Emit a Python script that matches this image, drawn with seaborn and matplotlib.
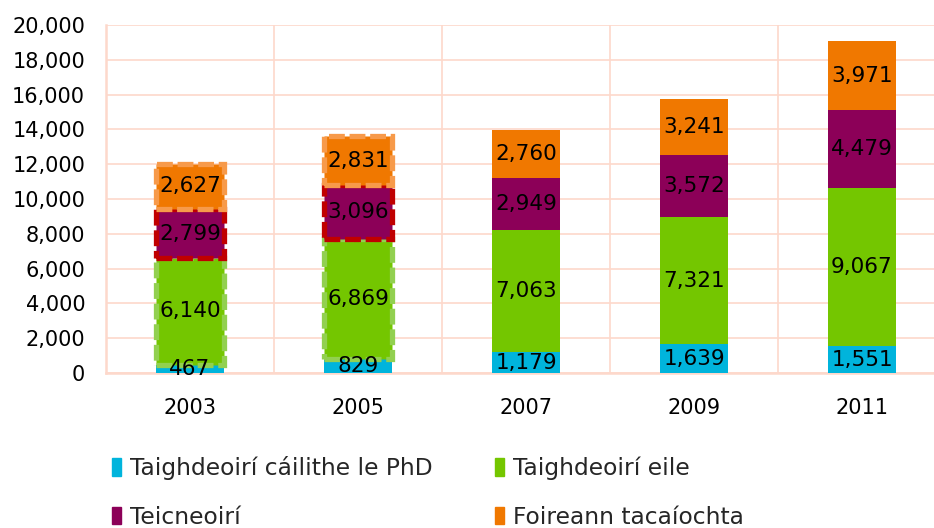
import matplotlib
matplotlib.use("Agg")
import matplotlib.pyplot as plt
from matplotlib.ticker import FuncFormatter, FixedLocator
import numpy as np
import pandas as pd
import seaborn as sns

years = ["2003", "2005", "2007", "2009", "2011"]
phd = [467, 829, 1179, 1639, 1551]
eile = [6140, 6869, 7063, 7321, 9067]
teic = [2799, 3096, 2949, 3572, 4479]
foir = [2627, 2831, 2760, 3241, 3971]

series = ["Taighdeoirí cáilithe le PhD", "Taighdeoirí eile", "Teicneoirí", "Foireann tacaíochta"]
colors = ["#00B4DC", "#74C600", "#8C0058", "#F07800"]
dash_edges = [None, "#92D050", "#C00000", "#F79A4A"]  # outline of 2003 and 2005 bars

sns.set_style("white")
plt.rcParams["font.family"] = ["DejaVu Sans"]

fig = plt.figure(figsize=(9.34, 5.28), dpi=100)
ax = fig.add_axes([106 / 934, 1 - 373 / 528, 1 - 106 / 934, (373 - 25) / 528])

grid_c = "#FDD8CB"
bottom = np.zeros(len(years))
for name, vals, col, edge in zip(series, [phd, eile, teic, foir], colors, dash_edges):
    df = pd.DataFrame({"year": years, "value": vals})
    sns.barplot(data=df, x="year", y="value", order=years, color=col, saturation=1,
                width=0.41, errorbar=None, bottom=bottom, linewidth=0, ax=ax, zorder=3)
    bars = ax.containers[-1]
    if edge is not None:
        for b in list(bars)[:2]:
            b.set_edgecolor(edge)
            b.set_linewidth(3.8)
            b.set_linestyle((0, (3.0, 0.9)))
    ax.bar_label(bars, labels=[f"{v:,}" for v in vals], label_type="center",
                 fontsize=15.5, color="black", zorder=5)
    bottom = bottom + np.array(vals)

ax.set_ylim(0, 20000)
ax.set_xlim(-0.5, 4.5 - 12 / 168)
ax.set_yticks(range(0, 20001, 2000))
ax.yaxis.set_major_formatter(FuncFormatter(lambda v, p: f"{int(v):,}"))
ax.xaxis.set_minor_locator(FixedLocator([0.5, 1.5, 2.5, 3.5]))
ax.grid(axis="y", which="major", color=grid_c, linewidth=1.2)
ax.grid(axis="x", which="minor", color=grid_c, linewidth=1.2)
ax.grid(axis="x", which="major", visible=False)
ax.set_axisbelow(True)
for s in ["top", "right"]:
    ax.spines[s].set_visible(False)
for s in ["left", "bottom"]:
    ax.spines[s].set_color(grid_c)
    ax.spines[s].set_linewidth(1.8)
ax.tick_params(axis="both", which="both", length=0, labelsize=15, colors="black")
ax.tick_params(axis="y", pad=15)
ax.tick_params(axis="x", pad=18)
ax.set_xlabel("")
ax.set_ylabel("")

handles = [plt.Rectangle((0, 0), 1, 1, color=c) for c in colors]
order = [0, 2, 1, 3]
fig.legend([handles[i] for i in order], [series[i] for i in order], ncol=2,
           loc="upper left", bbox_to_anchor=(112 / 934, 1 - 456 / 528),
           frameon=False, fontsize=16.8, handlelength=0.4, handleheight=0.8,
           handletextpad=0.35, columnspacing=2.7, labelspacing=1.1,
           borderpad=0, borderaxespad=0)

fig.savefig("out.png", dpi=100)
